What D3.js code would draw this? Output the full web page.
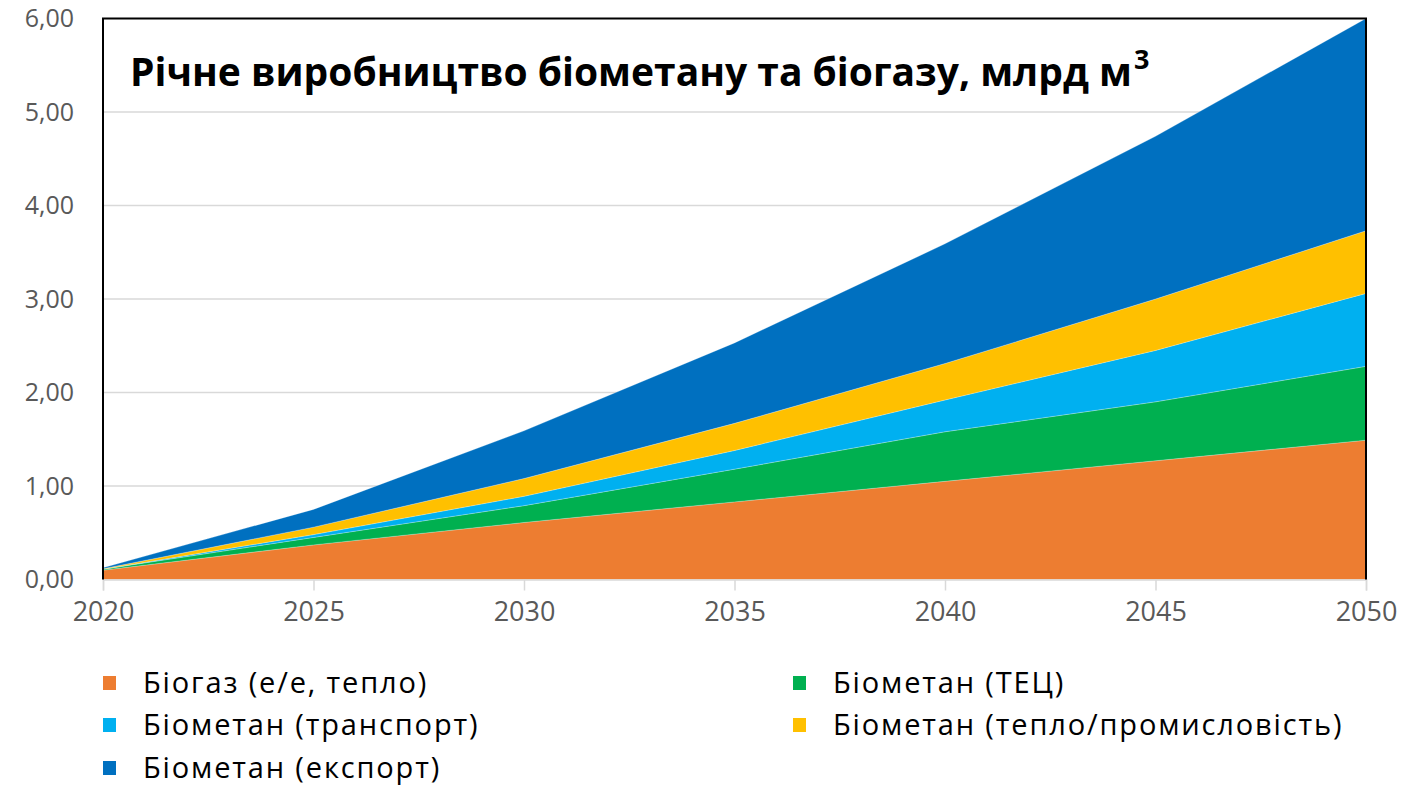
<!DOCTYPE html>
<html><head><meta charset="utf-8">
<script src="https://cdn.jsdelivr.net/npm/d3@7"></script>
<style>body{margin:0;background:#fff;} svg{display:block;font-family:"Open Sans","Noto Sans",sans-serif;}</style>
</head><body>
<svg id="c" width="1408" height="786"></svg>
<script>
const years = [2020, 2025, 2030, 2035, 2040, 2045, 2050];
const biogas = [0.10, 0.37, 0.61, 0.83, 1.05, 1.27, 1.49];
const tec = [0.01, 0.08, 0.18, 0.35, 0.53, 0.63, 0.79];
const transport = [0.00, 0.03, 0.10, 0.20, 0.34, 0.55, 0.78];
const heat = [0.005, 0.08, 0.19, 0.29, 0.39, 0.55, 0.67];
const exportS = [0.01, 0.19, 0.51, 0.86, 1.28, 1.74, 2.27];
const seriesNames = ["Біогаз (е/е, тепло)", "Біометан (ТЕЦ)", "Біометан (транспорт)", "Біометан (тепло/промисловість)", "Біометан (експорт)"];
const seriesColors = ["#ED7D31", "#00B050", "#00B0F0", "#FFC000", "#0070C0"];
const yTicks = [0, 1, 2, 3, 4, 5, 6];
const title = "Річне виробництво біометану та біогазу, млрд м";

const keys = ["biogas", "tec", "transport", "heat", "export"];
const table = years.map((y, i) => ({year: y, biogas: biogas[i], tec: tec[i], transport: transport[i], heat: heat[i], export: exportS[i]}));

const svg = d3.select("#c");
const L = 103, R = 1366, T = 18.5, B = 579.5;
const x = d3.scaleLinear().domain([2020, 2050]).range([L, R]);
const y = d3.scaleLinear().domain([0, 6]).range([B, T]);
const loc = d3.formatLocale({decimal: ",", thousands: " ", grouping: [3], currency: ["", ""]});
const fmt = loc.format(".2f");

// gridlines
svg.append("g").selectAll("line").data(yTicks.filter(d => d > 0 && d < 6)).join("line")
  .attr("x1", L).attr("x2", R).attr("y1", d => y(d)).attr("y2", d => y(d))
  .attr("stroke", "#D9D9D9").attr("stroke-width", 1.5);

const stack = d3.stack().keys(keys);
const layers = stack(table);
const area = d3.area().x(d => x(d.data.year)).y0(d => y(d[0])).y1(d => y(d[1]));
svg.append("g").selectAll("path").data(layers).join("path")
  .attr("d", area).attr("fill", (d, i) => seriesColors[i])
  .attr("stroke", "#ffffff").attr("stroke-width", 0.4).attr("stroke-opacity", 0.6);

// y axis labels
svg.append("g").selectAll("text").data(yTicks).join("text")
  .attr("x", 74).attr("y", d => y(d)).attr("dy", "0.35em").attr("text-anchor", "end")
  .attr("font-size", 25).attr("fill", "#595959").text(d => fmt(d));

// x axis
const xa = svg.append("g").attr("transform", `translate(0,${B})`)
  .call(d3.axisBottom(x).tickValues(years).tickFormat(d3.format("d")).tickSize(11).tickPadding(11));
xa.select(".domain").attr("stroke", "#D9D9D9").attr("stroke-width", 1.5);
xa.selectAll(".tick line").attr("stroke", "#D9D9D9").attr("stroke-width", 1.5);
xa.selectAll(".tick text").attr("font-size", 27).attr("fill", "#595959").attr("font-family", "Open Sans");

// plot border (left, top, right)
svg.append("path").attr("d", `M${L},${B}V${T}H${R}V${B}`).attr("fill", "none").attr("stroke", "#000").attr("stroke-width", 2);

// title
const t = svg.append("text").attr("x", 130).attr("y", 86).attr("font-size", 39).attr("font-weight", "bold").attr("fill", "#000");
t.append("tspan").text(title);
t.append("tspan").attr("dy", -17).attr("dx", 2).attr("font-size", 27).text("3");

// legend
const legPos = [[103, 683], [793, 683], [103, 725], [793, 725], [103, 768]];
const order = [0, 1, 2, 3, 4];
const lg = svg.append("g").selectAll("g").data(order).join("g")
  .attr("transform", (d, i) => `translate(${legPos[i][0]},${legPos[i][1]})`);
lg.append("rect").attr("x", 0).attr("y", -7).attr("width", 13).attr("height", 14).attr("fill", d => seriesColors[d]);
lg.append("text").attr("x", 40).attr("y", 0).attr("dy", "0.35em").attr("font-size", 29).attr("letter-spacing", 1.85).attr("fill", "#000").text(d => seriesNames[d]);
</script>
</body></html>
